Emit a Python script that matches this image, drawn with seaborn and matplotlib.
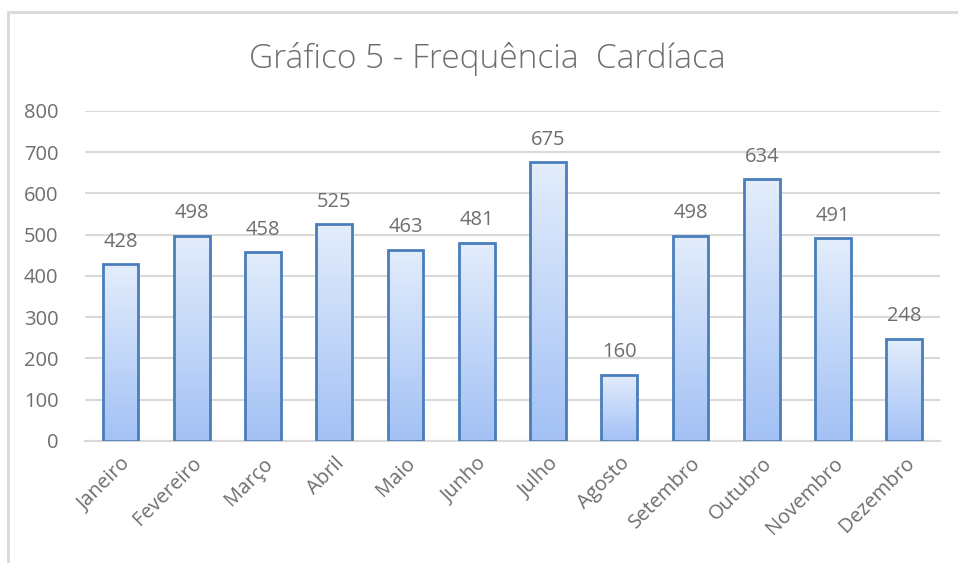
import numpy as np
import pandas as pd
import matplotlib
matplotlib.use("Agg")
import matplotlib.pyplot as plt
import matplotlib.patches as mpatches
from matplotlib.colors import LinearSegmentedColormap
import seaborn as sns

# data
meses = ['Janeiro', 'Fevereiro', 'Março', 'Abril', 'Maio', 'Junho',
         'Julho', 'Agosto', 'Setembro', 'Outubro', 'Novembro', 'Dezembro']
frequencia = [428, 498, 458, 525, 463, 481, 675, 160, 498, 634, 491, 248]
y_ticks = [0, 100, 200, 300, 400, 500, 600, 700, 800]

df = pd.DataFrame({'Mes': meses, 'Freq': frequencia})

sns.set_theme(style="white")
plt.rcParams['font.family'] = ['Open Sans', 'DejaVu Sans']
cinza = '#6e6e6e'

fig = plt.figure(figsize=(9.58, 5.63), dpi=100)
ax = fig.add_axes([0.0887, 0.2167, 0.8923, 0.5863])

sns.barplot(data=df, x='Mes', y='Freq', ax=ax, width=0.5,
            color='#c5d9f7', edgecolor='#4a7ebb', linewidth=2, zorder=3)

# gradient fill inside each bar (light at top, darker blue at bottom)
cmap = LinearSegmentedColormap.from_list('grad', ['#a3c1f5', '#e3edfc'])
grad = np.linspace(0, 1, 256).reshape(-1, 1)
for bar in ax.patches:
    x0, y0 = bar.get_x(), bar.get_y()
    w, h = bar.get_width(), bar.get_height()
    bar.set_facecolor('none')
    im = ax.imshow(grad, cmap=cmap, origin='lower', aspect='auto',
                   extent=[x0, x0 + w, y0, y0 + h], zorder=2.5)
    im.set_clip_path(bar)

for bar, v in zip(ax.patches, frequencia):
    ax.annotate(str(v), (bar.get_x() + bar.get_width() / 2, v),
                xytext=(0, 9), textcoords='offset points',
                ha='center', va='bottom', fontsize=14.5, color=cinza)

ax.set_xlim(-0.5, len(meses) - 0.5)
ax.set_ylim(0, 800)
ax.set_yticks(y_ticks)
ax.yaxis.grid(True, color='#d9d9d9', linewidth=1.5, zorder=0)
ax.set_axisbelow(True)
for s in ['top', 'right', 'left']:
    ax.spines[s].set_visible(False)
ax.spines['bottom'].set_color('#d9d9d9')
ax.spines['bottom'].set_linewidth(1.5)
ax.tick_params(axis='both', length=0, labelsize=14.5, colors=cinza)
ax.tick_params(axis='y', pad=19)
ax.tick_params(axis='x', pad=9)
plt.setp(ax.get_xticklabels(), rotation=45, ha='right',
         rotation_mode='anchor', fontsize=14.5)
ax.set_xlabel('')
ax.set_ylabel('')

fig.text(0.509, 0.895, 'Gráfico 5 - Frequência  Cardíaca',
         ha='center', va='center', fontsize=24, color=cinza,
         fontweight='light')

# chart frame (Excel-like border)
fig.add_artist(mpatches.Rectangle((0.0084, -0.05), 1.05, 0.9787 + 0.05,
                                  transform=fig.transFigure, fill=False,
                                  edgecolor='#d9d9d9', linewidth=2))

fig.savefig('out.png', dpi=100)
